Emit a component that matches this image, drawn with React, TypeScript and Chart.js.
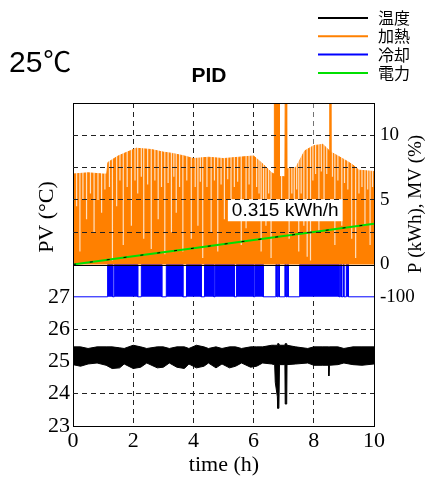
import { useEffect, useRef } from 'react';
import { Chart, registerables } from 'chart.js';

Chart.register(...registerables);

// ---- axis ticks ----
const TIME_TICKS = [0, 2, 4, 6, 8, 10];
const PV_GRID = [23, 24, 25, 26, 27, 28, 29, 30, 31, 32, 33];
const PV_LABELS = [23, 24, 25, 26, 27];
const P_TICKS = [-2.5, 0, 5, 10];
const P_TICK_LABELS = ['-100', '0', '5', '10'];

// ---- temperature band (°C) ----
const tempT = [0, 0.25, 0.5, 0.8, 1.1, 1.3, 1.55, 1.7, 2.0, 2.25, 2.45, 2.8, 3.0, 3.2, 3.45, 3.7, 3.85, 4.1, 4.35, 4.5, 4.75, 4.95, 5.2, 5.4, 5.6, 5.9, 6.1, 6.3, 6.6, 6.7, 6.72, 6.79, 6.8, 6.84, 6.86, 7.04, 7.05, 7.1, 7.11, 7.4, 7.8, 8.0, 8.3, 8.49, 8.5, 8.52, 8.8, 9.0, 9.3, 9.6, 10];
const tempHi = [25.45, 25.45, 25.4, 25.45, 25.45, 25.45, 25.42, 25.4, 25.5, 25.45, 25.4, 25.45, 25.45, 25.4, 25.45, 25.45, 25.4, 25.5, 25.45, 25.4, 25.45, 25.4, 25.45, 25.45, 25.4, 25.45, 25.45, 25.45, 25.5, 25.5, 25.5, 25.5, 25.55, 25.55, 25.5, 25.5, 25.55, 25.55, 25.5, 25.45, 25.4, 25.45, 25.45, 25.45, 25.45, 25.45, 25.45, 25.4, 25.45, 25.45, 25.45];
const tempLo = [24.9, 24.85, 24.92, 24.95, 24.88, 24.78, 24.8, 24.92, 24.78, 24.82, 24.95, 24.8, 24.82, 24.95, 24.82, 24.78, 24.92, 24.8, 24.85, 24.95, 24.8, 24.92, 24.8, 24.85, 24.95, 24.82, 24.85, 24.95, 24.92, 24.9, 24.35, 23.9, 23.55, 23.55, 24.9, 24.9, 23.68, 23.68, 24.9, 24.92, 24.95, 24.88, 24.88, 24.88, 24.55, 24.88, 24.9, 24.95, 24.9, 24.88, 24.92];

// ---- heating (right axis units) envelope ----
const heatT = [0, 0.5, 1.0, 1.12, 1.16, 1.5, 1.9, 2.1, 2.6, 3.0, 3.3, 3.7, 4.0, 4.5, 5.0, 5.5, 6.0, 6.3, 6.6, 6.68, 6.69, 6.85, 6.86, 7.04, 7.05, 7.09, 7.1, 7.4, 7.7, 8.0, 8.3, 8.52, 8.53, 8.56, 8.57, 8.8, 9.1, 9.3, 9.5, 10];
const heatV = [7.0, 7.1, 7.0, 7.0, 7.9, 8.4, 8.8, 9.0, 8.9, 8.7, 8.6, 8.4, 8.2, 8.3, 8.2, 8.3, 8.4, 7.8, 7.1, 7.0, 13, 13, 6.8, 6.8, 13, 13, 7.4, 7.5, 8.8, 9.2, 9.3, 8.8, 13, 13, 8.7, 8.4, 8.0, 7.7, 7.3, 7.2];

// ---- heating drop-outs (time, lowest value) ----
const gapT = [0.12, 0.23, 0.33, 0.45, 0.58, 0.7, 0.83, 0.95, 1.06, 1.21, 1.31, 1.45, 1.56, 1.67, 1.8, 1.94, 2.06, 2.15, 2.27, 2.35, 2.48, 2.6, 2.72, 2.83, 2.94, 3.05, 3.16, 3.27, 3.35, 3.43, 3.54, 3.65, 3.78, 3.93, 4.06, 4.15, 4.23, 4.31, 4.45, 4.59, 4.7, 4.81, 4.92, 5.03, 5.14, 5.25, 5.36, 5.47, 5.59, 5.75, 5.85, 5.95, 6.1, 6.18, 6.25, 6.33, 6.41, 6.5, 6.58, 6.93, 7.18, 7.27, 7.35, 7.43, 7.5, 7.58, 7.67, 7.78, 7.89, 7.97, 8.06, 8.17, 8.25, 8.34, 8.43, 8.62, 8.7, 8.8, 8.93, 9.02, 9.13, 9.26, 9.39, 9.5, 9.6, 9.7, 9.79, 9.87, 9.95];
const gapV = [4.5, 1.0, 5.0, 3.5, 5.5, 2.5, 5.0, 4.0, 5.8, 6.0, 0.3, 4.5, 6.5, 1.5, 6.0, 3.0, 6.5, 5.5, 6.8, 2.0, 6.2, 1.2, 6.5, 3.5, 6.0, 0.8, 6.3, 2.5, 6.8, 4.0, 6.0, 1.0, 6.5, 2.0, 6.0, 3.0, 6.4, 0.5, 6.0, 2.5, 6.5, 1.0, 6.2, 3.5, 6.6, 4.5, 6.0, 6.4, 1.5, 2.8, 6.2, 4.0, 6.0, 5.5, 1.0, 5.0, 3.0, 5.5, 0.5, 3.5, 2.0, 5.5, 4.0, 5.8, 1.0, 5.5, 3.0, 0.6, 0.3, 6.5, 7.0, 2.5, 7.2, 4.5, 7.0, 6.8, 1.5, 6.5, 3.0, 6.3, 5.8, 2.0, 0.5, 5.5, 6.0, 3.0, 5.8, 1.5, 6.0];

// ---- cooling on-intervals (h) ----
const coolStart = [1.15, 1.37, 2.27, 3.1, 3.77, 4.37, 4.72, 5.43, 6.04, 6.74, 6.82, 7.04, 7.12, 7.53, 8.88, 8.97, 9.08];
const coolEnd = [1.32, 2.15, 2.95, 3.65, 4.26, 4.68, 5.36, 6.0, 6.32, 6.78, 6.86, 7.08, 7.15, 8.84, 8.92, 9.0, 9.15];
const COOL_ON = 0;
const COOL_OFF = -2.5; // = -100 %

// ---- energy (kWh) ----
const energyT = [0, 2, 4, 6, 8, 10];
const energyV = [0, 0.64, 1.26, 1.89, 2.52, 3.15];

const ENERGY_LABEL = '0.315 kWh/h';
const LEGEND = [
  { text: '温度', color: '#000000' },
  { text: '加熱', color: '#ff8000' },
  { text: '冷却', color: '#0000ff' },
  { text: '電力', color: '#00e000' },
];

const SERIF = '"Liberation Serif", "Times New Roman", serif';

export default function App() {
  const ref = useRef<HTMLCanvasElement | null>(null);

  useEffect(() => {
    if (!ref.current) return;

    const heatData = heatT.map((t, i) => ({ x: t, y: heatV[i] }));
    const gapData: any[] = [];
    gapT.forEach((t, i) => {
      gapData.push({ x: t, y: gapV[i] }, { x: t, y: 12.5 }, { x: t, y: null });
    });
    const coolData: any[] = [{ x: 0, y: COOL_OFF }];
    coolStart.forEach((s, i) => {
      coolData.push({ x: s, y: COOL_OFF }, { x: s, y: COOL_ON }, { x: coolEnd[i], y: COOL_ON }, { x: coolEnd[i], y: COOL_OFF });
    });
    coolData.push({ x: 10, y: COOL_OFF });
    const energyData = energyT.map((t, i) => ({ x: t, y: energyV[i] }));
    const hiData = tempT.map((t, i) => ({ x: t, y: tempHi[i] }));
    const loData = tempT.map((t, i) => ({ x: t, y: tempLo[i] }));

    const decor = {
      id: 'decor',
      afterDatasetsDraw(chart: any) {
        const { ctx, chartArea: a, scales } = chart;
        const y2 = scales.y2;
        ctx.save();
        ctx.strokeStyle = '#000';
        ctx.lineWidth = 1;
        const y0 = Math.round(y2.getPixelForValue(0)) + 0.5;
        ctx.beginPath();
        ctx.moveTo(a.left, y0);
        ctx.lineTo(a.right, y0);
        ctx.stroke();
        ctx.strokeRect(Math.round(a.left) + 0.5, Math.round(a.top) + 0.5, Math.round(a.right - a.left), Math.round(a.bottom - a.top));
        // energy rate label
        ctx.font = '19px "Liberation Sans", Arial, sans-serif';
        const lx = scales.x.getPixelForValue(7.05);
        const ly = y2.getPixelForValue(4.2);
        const w = ctx.measureText(ENERGY_LABEL).width;
        ctx.fillStyle = '#fff';
        ctx.fillRect(lx - w / 2 - 4, ly - 11, w + 8, 22);
        ctx.fillStyle = '#000';
        ctx.textAlign = 'center';
        ctx.textBaseline = 'middle';
        ctx.fillText(ENERGY_LABEL, lx, ly + 1);
        ctx.restore();
      },
      afterDraw(chart: any) {
        const { ctx } = chart;
        ctx.save();
        ctx.fillStyle = '#000';
        // 25℃
        ctx.textAlign = 'left';
        ctx.textBaseline = 'alphabetic';
        ctx.font = '30px "Liberation Sans", Arial, sans-serif';
        ctx.fillText('25', 9, 72);
        const w25 = ctx.measureText('25').width;
        ctx.font = '28px "Noto Sans CJK JP", "DejaVu Sans", sans-serif';
        ctx.fillText('℃', 9 + w25 + 1, 72);
        // PID
        ctx.textAlign = 'center';
        ctx.textBaseline = 'middle';
        ctx.font = 'bold 21px "Liberation Sans", Arial, sans-serif';
        ctx.fillText('PID', 209, 76);
        // legend
        LEGEND.forEach((it, i) => {
          const y = 18 + i * 18.3;
          ctx.strokeStyle = it.color;
          ctx.lineWidth = 2;
          ctx.beginPath();
          ctx.moveTo(318, y);
          ctx.lineTo(368, y);
          ctx.stroke();
          ctx.fillStyle = '#000';
          ctx.textAlign = 'left';
          ctx.font = '16px "Noto Sans CJK JP", sans-serif';
          ctx.fillText(it.text, 378, y);
        });
        // axis titles
        ctx.font = '22px ' + SERIF;
        ctx.textAlign = 'center';
        ctx.fillText('time (h)', 224, 465);
        ctx.save();
        ctx.translate(47, 217);
        ctx.rotate(-Math.PI / 2);
        ctx.fillText('PV (°C)', 0, 0);
        ctx.restore();
        ctx.save();
        ctx.translate(416, 204);
        ctx.rotate(-Math.PI / 2);
        ctx.font = '19px ' + SERIF;
        ctx.fillText('P (kWh), MV (%)', 0, 0);
        ctx.restore();
        ctx.restore();
      },
    };

    const chart = new Chart(ref.current, {
      type: 'line',
      data: {
        datasets: [
          { data: energyData, yAxisID: 'y2', borderColor: '#000', borderWidth: 1, borderDash: [3, 14], pointRadius: 0, fill: false },
          { data: energyData, yAxisID: 'y2', borderColor: '#00e000', borderWidth: 2, pointRadius: 0, fill: false },
          { data: gapData, yAxisID: 'y2', borderColor: 'rgba(255,255,255,0.75)', borderWidth: 1.2, pointRadius: 0, fill: false, spanGaps: false },
          { data: heatData, yAxisID: 'y2', borderColor: '#ff8000', backgroundColor: '#ff8000', borderWidth: 1, pointRadius: 0, fill: 'origin' },
          { data: coolData, yAxisID: 'y2', borderColor: '#0000ff', backgroundColor: '#0000ff', borderWidth: 1, pointRadius: 0, fill: { value: COOL_OFF } },
          { data: hiData, yAxisID: 'y', borderColor: '#000', backgroundColor: '#000', borderWidth: 1, pointRadius: 0, fill: '+1' },
          { data: loData, yAxisID: 'y', borderColor: '#000', borderWidth: 1, pointRadius: 0, fill: false },
        ],
      },
      options: {
        responsive: false,
        animation: false,
        events: [],
        layout: { padding: { top: 103, left: 0, right: 0, bottom: 0 } },
        plugins: { legend: { display: false }, tooltip: { enabled: false }, title: { display: false } },
        scales: {
          x: {
            type: 'linear',
            min: 0,
            max: 10,
            afterBuildTicks: (s: any) => { s.ticks = TIME_TICKS.map((v) => ({ value: v })); },
            afterFit: (s: any) => { s.height = 51; },
            ticks: { color: '#000', font: { family: SERIF, size: 22 }, padding: 2, maxRotation: 0 },
            grid: {
              drawTicks: false,
              lineWidth: 1,
              color: (c: any) => (c.tick && (c.tick.value === 0 || c.tick.value === 10) ? 'rgba(0,0,0,0)' : '#222'),
            },
            border: { display: false, dash: [5, 4] },
          },
          y: {
            type: 'linear',
            position: 'left',
            min: 23,
            max: 33,
            afterBuildTicks: (s: any) => { s.ticks = PV_GRID.map((v) => ({ value: v })); },
            afterFit: (s: any) => { s.width = 73; },
            ticks: {
              color: '#000',
              font: { family: SERIF, size: 22 },
              padding: 3,
              callback: (v: any) => (PV_LABELS.includes(Number(v)) ? String(v) : ''),
            },
            grid: {
              z: 1,
              drawTicks: false,
              lineWidth: 1,
              color: (c: any) => (c.tick && [23, 25, 27, 28, 33].includes(c.tick.value) ? 'rgba(0,0,0,0)' : '#222'),
            },
            border: { display: false, dash: [5, 4] },
          },
          y2: {
            type: 'linear',
            position: 'right',
            min: -12.5,
            max: 12.5,
            afterBuildTicks: (s: any) => { s.ticks = P_TICKS.map((v) => ({ value: v })); },
            afterFit: (s: any) => { s.width = 53; },
            ticks: {
              color: '#000',
              font: { family: SERIF, size: 19 },
              padding: 6,
              callback: (v: any) => {
                const i = P_TICKS.indexOf(Number(v));
                return i >= 0 ? P_TICK_LABELS[i] : '';
              },
            },
            grid: { display: false, drawTicks: false },
            border: { display: false },
          },
        },
      },
      plugins: [decor],
    } as any);

    return () => chart.destroy();
  }, []);

  return (
    <div style={{ position: 'absolute', left: 0, top: 0, width: 427, height: 477, background: '#fff' }}>
      <canvas ref={ref} width={427} height={477} style={{ display: 'block', width: 427, height: 477 }} />
    </div>
  );
}
